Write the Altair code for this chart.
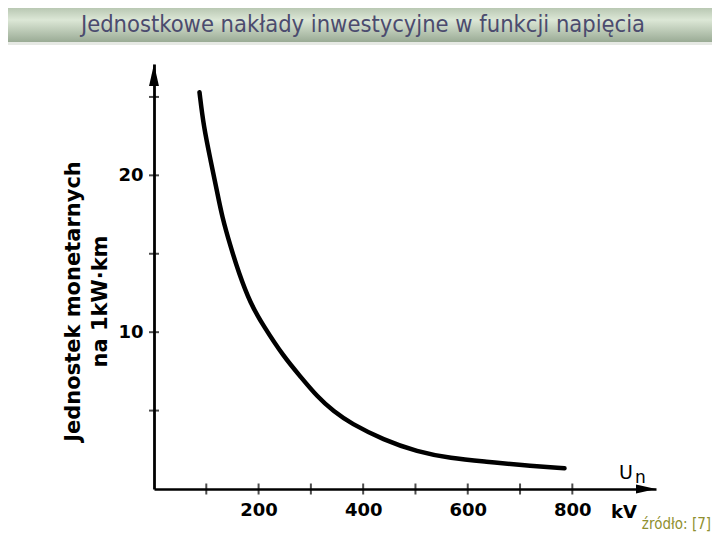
import altair as alt
import pandas as pd

# ---- data ----
voltage_kv = [87, 95, 108, 121, 130, 146, 162, 184, 210, 248, 280, 312, 344, 376, 439, 503, 567, 637, 700, 785]
cost_units = [25.3, 23.1, 21.0, 18.9, 17.4, 15.5, 13.8, 11.85, 10.36, 8.44, 7.17, 5.89, 4.93, 4.19, 3.13, 2.38, 1.96, 1.74, 1.53, 1.32]

x_ticks = [100, 200, 300, 400, 500, 600, 700, 800]
x_labels = [200, 400, 600, 800]
y_ticks = [5, 10, 15, 20, 25]
y_labels = [10, 20]
x_max = 960
y_max = 27.1

title_text = "Jednostkowe nakłady inwestycyjne w funkcji napięcia"
y_title = ["Jednostek monetarnych", "na  1kW·km"]
source_text = "źródło: [7]"

W, H = 502, 425
FONT = "DejaVu Sans"
xs = alt.Scale(domain=[0, x_max], nice=False, zero=False)
ys = alt.Scale(domain=[0, y_max], nice=False, zero=False)

x_axis = alt.Axis(
    title=None, values=x_labels, ticks=False, tickSize=0, grid=False,
    labelFont=FONT, labelFontWeight="bold", labelFontSize=18, labelColor="black",
    labelPadding=12, domainColor="black", domainWidth=2.5)
y_axis = alt.Axis(
    title=y_title, titleFont=FONT, titleFontWeight="bold", titleFontSize=21,
    titleColor="black", titleAngle=270, titleAlign="center", titleBaseline="middle",
    titleX=-81, titleY=237, titleLineHeight=27,
    values=y_labels, ticks=False, tickSize=0, grid=False,
    labelFont=FONT, labelFontWeight="bold", labelFontSize=18, labelColor="black",
    labelPadding=11, domainColor="black", domainWidth=2.8)

X = alt.X("kv:Q", scale=xs, axis=x_axis)
Y = alt.Y("cost:Q", scale=ys, axis=y_axis)

curve_df = pd.DataFrame({"kv": voltage_kv, "cost": cost_units})
xt_df = pd.DataFrame({"kv": x_ticks, "cost": [0] * len(x_ticks)})
yt_df = pd.DataFrame({"kv": [0] * len(y_ticks), "cost": y_ticks})
one = pd.DataFrame({"a": [0]})

bar = alt.Chart(one).mark_rect(
    color=alt.LinearGradient(
        gradient="linear", x1=0, x2=0, y1=0, y2=1,
        stops=[alt.GradientStop(offset=0, color="#b9c8b3"),
               alt.GradientStop(offset=0.35, color="#dce7d6"),
               alt.GradientStop(offset=1, color="#9aab95")],
    )
).encode(x=alt.value(-146), x2=alt.value(558), y=alt.value(-56), y2=alt.value(-22))

strip = alt.Chart(one).mark_rect(color="#e6e9e4").encode(
    x=alt.value(-146), x2=alt.value(558), y=alt.value(-22), y2=alt.value(-19))

title = alt.Chart(one).mark_text(
    text=title_text, font="'DejaVu Sans Condensed', 'DejaVu Sans'", fontSize=23.5,
    color="#4b4b6e", align="center", baseline="alphabetic"
).encode(x=alt.value(209), y=alt.value(-32))

curve = alt.Chart(curve_df).mark_line(
    color="black", strokeWidth=4.5, strokeCap="round", interpolate="basis"
).encode(x=X, y=Y)

xticks = alt.Chart(xt_df).mark_tick(orient="vertical", color="black", size=11, thickness=2).encode(x=X, y=Y)
yticks = alt.Chart(yt_df).mark_tick(orient="horizontal", color="black", size=10, thickness=2).encode(x=X, y=Y)

x_arrow = alt.Chart(pd.DataFrame({"kv": [x_max], "cost": [0]})).mark_point(
    shape="M0,0L-2,0.45L-2,-0.45Z", filled=True, color="black", size=400, opacity=1
).encode(x=X, y=Y)
y_arrow = alt.Chart(pd.DataFrame({"kv": [0], "cost": [y_max]})).mark_point(
    shape="M0,0L0.45,2L-0.45,2Z", filled=True, color="black", size=484, opacity=1
).encode(x=X, y=Y)

u_txt = alt.Chart(one).mark_text(text="U", font=FONT, fontSize=19, color="black",
                                 align="left", baseline="alphabetic").encode(
    x=alt.value(465), y=alt.value(415))
n_txt = alt.Chart(one).mark_text(text="n", font=FONT, fontSize=17, color="black",
                                 align="left", baseline="alphabetic").encode(
    x=alt.value(481), y=alt.value(419))
kv_txt = alt.Chart(one).mark_text(text="kV", font=FONT, fontSize=18, fontWeight="bold",
                                  color="black", align="left", baseline="alphabetic").encode(
    x=alt.value(457), y=alt.value(454))
src_txt = alt.Chart(one).mark_text(text=source_text, font="'DejaVu Sans Condensed', 'DejaVu Sans'",
                                   fontSize=15, color="#8f8f2f", align="right",
                                   baseline="alphabetic").encode(
    x=alt.value(557), y=alt.value(465))

chart = alt.layer(
    bar, strip, title, curve, xticks, yticks, x_arrow, y_arrow, u_txt, n_txt, kv_txt, src_txt
).properties(
    width=W, height=H,
    autosize=alt.AutoSizeParams(type="none"),
    padding={"left": 146, "top": 56, "right": 56, "bottom": 43},
    background="white",
).configure_view(stroke=None)

chart.save("out.html", embed_options={"renderer": "svg", "actions": False})
